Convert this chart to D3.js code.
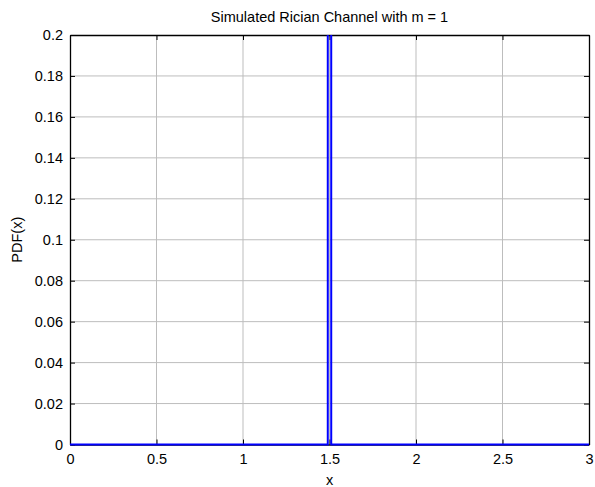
<!DOCTYPE html>
<html>
<head>
<meta charset="utf-8">
<script src="https://cdn.jsdelivr.net/npm/d3@7"></script>
<style>
  html, body { margin: 0; padding: 0; background: #fff; }
  svg { display: block; font-family: "Liberation Sans", Arial, sans-serif; }
</style>
</head>
<body>
<svg id="chart" width="595" height="487"></svg>
<script>
// Simulated PDF samples: zero everywhere except a narrow spike at x = 1.5
const xValues = [0, 1.49, 1.5, 1.51, 3];
const pdfValues = [0, 0, 100, 0, 0];
const xTicks = [0, 0.5, 1, 1.5, 2, 2.5, 3];
const yTicks = [0, 0.02, 0.04, 0.06, 0.08, 0.1, 0.12, 0.14, 0.16, 0.18, 0.2];
const titleText = "Simulated Rician Channel with m = 1";
const xLabel = "x";
const yLabel = "PDF(x)";

const margin = { left: 70, right: 6, top: 35, bottom: 42.5 };
const W = 595, H = 487;
const pw = W - margin.left - margin.right;
const ph = H - margin.top - margin.bottom;
const fontSize = 14.5;

const svg = d3.select("#chart");
const x = d3.scaleLinear().domain([0, 3]).range([margin.left, margin.left + pw]);
const y = d3.scaleLinear().domain([0, 0.2]).range([margin.top + ph, margin.top]);

const fmt = d => String(+d.toFixed(2));

// grid
const grid = svg.append("g");
grid.selectAll("line.gx").data(xTicks.slice(1, -1)).join("line")
  .attr("x1", d => x(d)).attr("x2", d => x(d))
  .attr("y1", y(0)).attr("y2", y(0.2))
  .attr("stroke", "#bdbdbd").attr("stroke-width", 1);
grid.selectAll("line.gy").data(yTicks.slice(1, -1)).join("line")
  .attr("x1", x(0)).attr("x2", x(3))
  .attr("y1", d => y(d)).attr("y2", d => y(d))
  .attr("stroke", "#bdbdbd").attr("stroke-width", 1);

// axes (inward ticks)
const tick = 5;
const axB = d3.axisBottom(x).tickValues(xTicks).tickFormat(fmt).tickSizeInner(-tick).tickSizeOuter(0).tickPadding(9);
const axL = d3.axisLeft(y).tickValues(yTicks).tickFormat(fmt).tickSizeInner(-tick).tickSizeOuter(0).tickPadding(7);
const axT = d3.axisTop(x).tickValues(xTicks).tickFormat("").tickSizeInner(-tick).tickSizeOuter(0);
const axR = d3.axisRight(y).tickValues(yTicks).tickFormat("").tickSizeInner(-tick).tickSizeOuter(0);

function style(g) {
  g.selectAll("path.domain").attr("stroke", "#000").attr("stroke-width", 1.3);
  g.selectAll(".tick line").attr("stroke", "#000").attr("stroke-width", 1);
  g.selectAll(".tick text").attr("fill", "#000").attr("font-size", fontSize)
    .attr("font-family", "Liberation Sans, Arial, sans-serif");
}
svg.append("g").attr("transform", `translate(0,${y(0)})`).call(axB).call(style);
svg.append("g").attr("transform", `translate(${x(0)},0)`).call(axL).call(style);
svg.append("g").attr("transform", `translate(0,${y(0.2)})`).call(axT).call(style);
svg.append("g").attr("transform", `translate(${x(3)},0)`).call(axR).call(style);

// data line, clipped to the axes box (slightly below so the baseline covers the axis)
svg.append("clipPath").attr("id", "clip").append("rect")
  .attr("x", x(0)).attr("y", y(0.2)).attr("width", pw).attr("height", ph + 2);
const pts = xValues.map((v, i) => [v, pdfValues[i]]);
svg.append("path")
  .attr("clip-path", "url(#clip)")
  .attr("d", d3.line().x(d => x(d[0])).y(d => y(d[1]))(pts))
  .attr("fill", "none").attr("stroke", "#0000ff").attr("stroke-width", 2);

// labels
svg.append("text").attr("x", x(1.5)).attr("y", 22).attr("text-anchor", "middle")
  .attr("font-size", fontSize).text(titleText);
svg.append("text").attr("x", x(1.5)).attr("y", 485).attr("text-anchor", "middle")
  .attr("font-size", fontSize).text(xLabel);
svg.append("text").attr("transform", `translate(22,${y(0.1)}) rotate(-90)`)
  .attr("text-anchor", "middle").attr("font-size", fontSize).text(yLabel);
</script>
</body>
</html>
